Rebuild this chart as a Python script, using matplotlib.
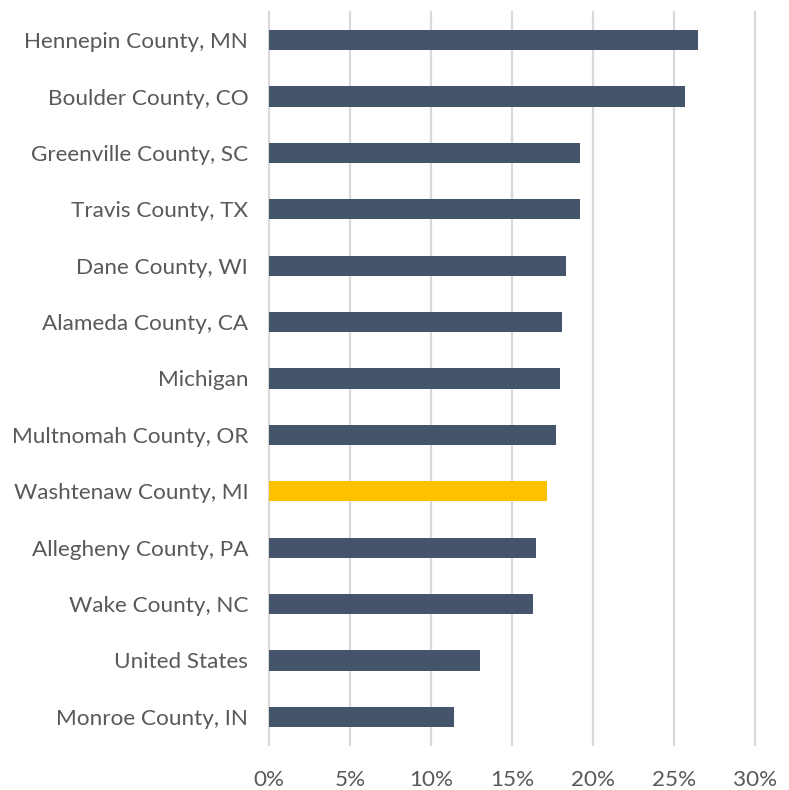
import matplotlib
matplotlib.use("Agg")
import matplotlib.pyplot as plt
from matplotlib.ticker import FuncFormatter

plt.rcParams['font.family'] = ['Lato', 'DejaVu Sans']

categories = [
    "Hennepin County, MN", "Boulder County, CO", "Greenville County, SC",
    "Travis County, TX", "Dane County, WI", "Alameda County, CA", "Michigan",
    "Multnomah County, OR", "Washtenaw County, MI", "Allegheny County, PA",
    "Wake County, NC", "United States", "Monroe County, IN",
]
values = [26.5, 25.7, 19.2, 19.2, 18.35, 18.1, 17.95, 17.7, 17.15, 16.5, 16.3, 13.0, 11.4]
highlight = "Washtenaw County, MI"
xticks = [0, 5, 10, 15, 20, 25, 30]

fig = plt.figure(figsize=(7.89, 7.90), dpi=100)
ax = fig.add_axes([269/789, 1 - 745/790, (755 - 269)/789, (745 - 12)/790])

colors = ["#FFC000" if c == highlight else "#44546A" for c in categories]
ypos = list(range(len(categories)))
ax.barh(ypos, values, height=0.36, color=colors, zorder=3)
ax.set_yticks(ypos)
ax.set_yticklabels(categories)
ax.set_ylim(len(categories) - 0.5, -0.5)
ax.set_xlim(0, 30)
ax.set_xticks(xticks)
ax.xaxis.set_major_formatter(FuncFormatter(lambda v, p: f"{v:.0f}%"))
ax.grid(axis='x', color='#D9D9D9', linewidth=1.6, zorder=0)
for s in ax.spines.values():
    s.set_visible(False)
ax.tick_params(axis='both', length=0, labelsize=16.2, colors='#595959')
ax.tick_params(axis='x', pad=18)
ax.tick_params(axis='y', pad=15)
for gl in ax.get_xgridlines():
    gl.set_clip_on(False)

fig.savefig("out.png", dpi=100)
